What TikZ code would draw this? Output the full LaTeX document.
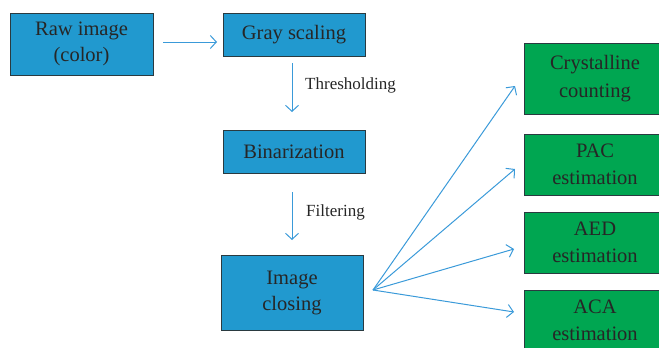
\documentclass[tikz,border=0pt]{standalone}
\usepackage{fontspec}
\setmainfont{Liberation Serif}
\usetikzlibrary{arrows.meta}
\definecolor{bluefill}{HTML}{2199CF}
\definecolor{greenfill}{HTML}{00A651}
\definecolor{boxline}{HTML}{2A3A40}
\definecolor{arrowcol}{HTML}{3A9AD9}
\definecolor{txt}{HTML}{262626}
\tikzset{
  bluebox/.style={draw=boxline, line width=1pt, fill=bluefill, rectangle, inner sep=0pt, align=center, text=txt, font=\rmfamily\fontsize{20.5}{26}\selectfont},
  greenbox/.style={draw=boxline, line width=1pt, fill=greenfill, rectangle, inner sep=0pt, align=center, text=txt, font=\rmfamily\fontsize{20.5}{27.5}\selectfont, minimum width=142pt},
  arr/.style={draw=arrowcol, line width=1pt, -{Straight Barb[length=6pt,width=13pt]}},
  lbl/.style={text=txt, font=\rmfamily\fontsize{17}{20}\selectfont, anchor=west, inner sep=0pt}
}
\begin{document}
\begin{tikzpicture}[x=1pt,y=-1pt]
\useasboundingbox (0,0) rectangle (659,348);
\node[bluebox, minimum width=143pt, minimum height=62pt] (raw) at (81.5,44) {Raw image\\(color)};
\node[bluebox, minimum width=142pt, minimum height=43pt] (gray) at (294,34.5) {Gray scaling};
\node[bluebox, minimum width=142pt, minimum height=43pt] (bin) at (294,151.5) {Binarization};
\node[bluebox, minimum width=142pt, minimum height=75pt] (close) at (292,292.5) {Image\\closing};
\node[greenbox, minimum height=71pt] (cry) at (595,78.5) {Crystalline\\counting};
\node[greenbox, minimum height=61pt] (pac) at (595,164.5) {PAC\\estimation};
\node[greenbox, minimum height=61pt] (aed) at (595,242.5) {AED\\estimation};
\node[greenbox, minimum height=61pt] (aca) at (595,320.5) {ACA\\estimation};
\coordinate (r1) at (163,42);
\coordinate (r2) at (217,42);
\draw[arr] (r1) -- (r2);
\coordinate (t1) at (292,63);
\coordinate (t2) at (292,112);
\draw[arr] (t1) -- (t2);
\node[lbl] (thr) at (305,85) {Thresholding};
\coordinate (f1) at (292,192);
\coordinate (f2) at (292,240);
\draw[arr] (f1) -- (f2);
\node[lbl] (fil) at (306,212) {Filtering};
\coordinate (fan) at (373,290);
\coordinate (e1) at (515,86);
\coordinate (e2) at (515,169);
\coordinate (e3) at (514,249);
\coordinate (e4) at (514,312);
\draw[arr] (fan) -- (e1);
\draw[arr] (fan) -- (e2);
\draw[arr] (fan) -- (e3);
\draw[arr] (fan) -- (e4);
\end{tikzpicture}
\end{document}
